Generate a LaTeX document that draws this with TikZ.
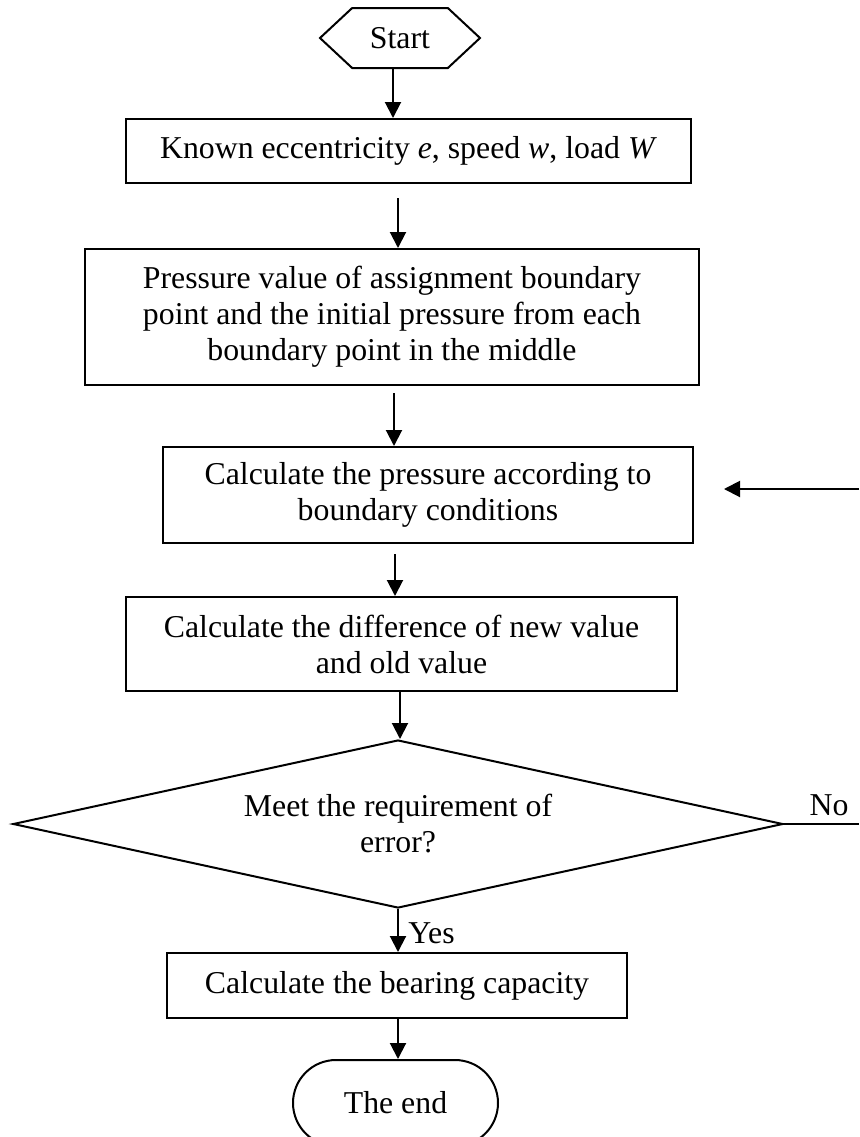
\documentclass[tikz,border=0pt]{standalone}
\usepackage{fontspec}
\setmainfont{Liberation Serif}
\usetikzlibrary{arrows.meta, shapes.geometric, shapes.misc, shapes.symbols, positioning}

\begin{document}
\begin{tikzpicture}[x=0.5pt, y=-0.5pt,
  font=\fontsize{15.9pt}{18pt}\selectfont,
  box/.style={draw, line width=1pt, rectangle, align=center, inner sep=0pt},
  arr/.style={line width=1pt, -{Triangle[length=8pt, width=8pt]}},
  lbl/.style={inner sep=0pt}]
\useasboundingbox (0,0) rectangle (859,1137);

% columns of the arrows
\coordinate (c1) at (393,0);
\coordinate (c2) at (398,0);
\coordinate (c3) at (394,0);
\coordinate (c4) at (395,0);
\coordinate (c5) at (400,0);

% start / end
\node[draw, line width=1pt, signal, signal to=west and east, signal pointer angle=86,
      minimum width=80pt, minimum height=30pt, inner sep=0pt] (start) at (400,38) {Start};
\node[draw, line width=1pt, rounded rectangle, minimum width=102.5pt, minimum height=43pt,
      inner sep=0pt] (theend) at (395.5,1103) {The end};

% boxes
\node[box, minimum width=282.5pt, minimum height=32pt] (known) at (408.5,151)
  {Known eccentricity \textit{e}, speed \textit{w}, load \textit{W}};
\node[box, minimum width=307pt, minimum height=68pt] (assign) at (392,317)
  {Pressure value of assignment boundary\\point and the initial pressure from each\\boundary point in the middle};
\node[box, minimum width=265pt, minimum height=48pt] (calcp) at (428,495)
  {Calculate the pressure according to\\boundary conditions};
\node[box, minimum width=275.5pt, minimum height=47pt] (diff) at (401.5,644)
  {Calculate the difference of new value\\and old value};
\node[draw, line width=1pt, diamond, aspect=4.6, minimum width=385pt, minimum height=84pt,
      inner sep=0pt, align=center] (meet) at (398,824)
  {Meet the requirement of\\error?};
\node[box, minimum width=230pt, minimum height=32.5pt] (bearing) at (397,985.5)
  {Calculate the bearing capacity};

% labels
\node[lbl] (yes) at (431.5,933) {Yes};
\node[lbl] (no) at (829,805) {No};

% arrows
\draw[arr] (start.south -| c1) -- (known.north -| c1);
\draw[arr, shorten <=7pt] (known.south -| c2) -- (assign.north -| c2);
\draw[arr, shorten <=3.5pt] (assign.south -| c3) -- (calcp.north -| c3);
\draw[arr, shorten <=5pt] (calcp.south -| c4) -- (diff.north -| c4);
\draw[arr] (diff.south -| c5) -- (meet.north -| c5);
\draw[arr] (meet.south) -- (bearing.north -| meet.south);
\draw[arr] (bearing.south -| meet.south) -- (theend.north -| meet.south);

% no branch and way back (cut off at the right edge)
\coordinate (noend) at (859,824);
\coordinate (back) at (859,489);
\draw[line width=1pt] (meet.east) -- (noend);
\draw[arr, shorten >=15pt] (back) -- (back -| calcp.east);
\end{tikzpicture}
\end{document}
